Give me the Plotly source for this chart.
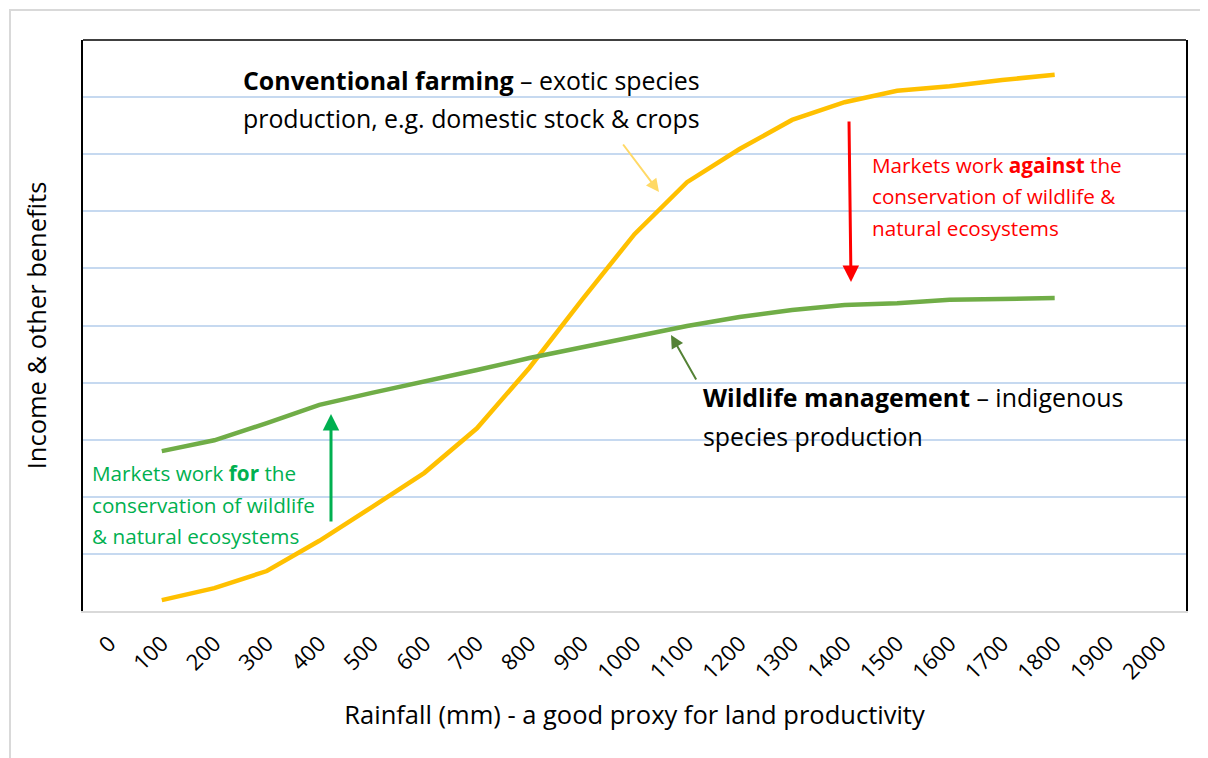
import plotly.graph_objects as go

# ---------------- data ----------------
rainfall_labels = [str(v) for v in range(0, 2100, 100)]
series_x = [str(v) for v in range(100, 1900, 100)]
conventional_farming = [0.19, 0.40, 0.70, 1.23, 1.82, 2.42, 3.20, 4.26, 5.45, 6.60,
                        7.51, 8.09, 8.60, 8.91, 9.11, 9.19, 9.30, 9.39]
wildlife_management = [2.80, 2.99, 3.29, 3.61, 3.82, 4.01, 4.22, 4.43, 4.62, 4.80,
                       4.99, 5.15, 5.27, 5.36, 5.39, 5.45, 5.46, 5.48]
y_ticks = list(range(0, 11))

# ---------------- geometry (page pixel coordinates) ----------------
PAGE_W, PAGE_H = 1208, 758
OFF = 8  # default body margin of the html page
L, R, T, B = 83, 1186, 40, 611
FONT = "Open Sans"


def px(x):
    return (x - L) / (R - L)


def py(y):
    return (B - y) / (B - T)


fig = go.Figure()
fig.add_trace(go.Scatter(x=series_x, y=conventional_farming, mode="lines",
                         line=dict(color="#FFC000", width=4.5), name="Conventional farming",
                         hoverinfo="skip"))
fig.add_trace(go.Scatter(x=series_x, y=wildlife_management, mode="lines",
                         line=dict(color="#70AD47", width=4.5), name="Wildlife management",
                         hoverinfo="skip"))

shapes = []
# white boxes hiding gridlines behind text (between gridlines and traces)
for (x0, y0, x1, y1) in [(222, 62, 740, 138), (853, 140, 1171, 250), (681, 372, 1148, 452)]:
    shapes.append(dict(type="rect", xref="paper", yref="paper", x0=px(x0), x1=px(x1),
                       y0=py(y1), y1=py(y0), fillcolor="white", line=dict(width=0),
                       layer="between"))
# top border of plot area
shapes.append(dict(type="line", xref="paper", yref="paper", x0=0, x1=1, y0=1, y1=1,
                   line=dict(color="black", width=1.5)))
# outer chart frame
shapes.append(dict(type="rect", xref="paper", yref="paper", x0=px(10), x1=px(1240),
                   y0=py(800), y1=py(10), line=dict(color="#d9d9d9", width=2),
                   fillcolor="rgba(0,0,0,0)", layer="below"))

annotations = []


def text_line(txt, x, y, size, color="black"):
    annotations.append(dict(text=txt, xref="paper", yref="paper", x=px(x), y=py(y),
                            xanchor="left", yanchor="middle", showarrow=False,
                            font=dict(family=FONT, size=size, color=color)))


BIG = 24.9
SMALL = 20.7
text_line("<b>Conventional farming</b> – exotic species", 241, 80, BIG)
text_line("production, e.g. domestic stock & crops", 241, 118, BIG)
text_line("<b>Wildlife management</b> – indigenous", 701, 397, BIG)
text_line("species production", 701, 436, BIG)
red = "#FF0000"
text_line("Markets work <b>against</b> the", 870, 165, SMALL, red)
text_line("conservation of wildlife &", 870, 196, SMALL, red)
text_line("natural ecosystems", 870, 228, SMALL, red)
grn = "#00B050"
text_line("Markets work <b>for</b> the", 90, 473, SMALL, grn)
text_line("conservation of wildlife", 90, 505, SMALL, grn)
text_line("& natural ecosystems", 90, 536, SMALL, grn)


def cat_x(xpix):
    return (xpix - L) / (R - L) * len(rainfall_labels) - 0.5


def val_y(ypix):
    return (B - ypix) / (B - T) * 10


def arrow(head, tail, color, width, size=1.0, head_style=2):
    annotations.append(dict(x=cat_x(head[0]), y=val_y(head[1]), xref="x", yref="y",
                            ax=tail[0] - head[0], ay=tail[1] - head[1], text="",
                            showarrow=True, arrowhead=head_style, arrowsize=size,
                            arrowwidth=width, arrowcolor=color))


arrow((659, 192), (622, 143), "#FFD966", 2, 1.3)
arrow((851, 282), (849, 120), red, 3, 1.1)
arrow((671, 335), (697, 381), "#548235", 2, 1.3)
arrow((331, 414), (331, 523), grn, 3, 1.1)

fig.update_layout(
    width=PAGE_W - OFF, height=PAGE_H - OFF,
    margin=dict(l=L - OFF, r=PAGE_W - R, t=T - OFF, b=PAGE_H - B, autoexpand=False),
    paper_bgcolor="white", plot_bgcolor="white",
    showlegend=False,
    shapes=shapes, annotations=annotations,
    font=dict(family=FONT, color="black"),
    xaxis=dict(type="category", categoryorder="array", categoryarray=rainfall_labels,
               tickvals=rainfall_labels, ticktext=rainfall_labels,
               range=[-0.5, len(rainfall_labels) - 0.5], showgrid=False, zeroline=False,
               showline=True, linecolor="#d9d9d9", linewidth=2, ticks="",
               tickangle=-45, ticklabelstandoff=9,
               tickfont=dict(size=22, family=FONT, color="black"),
               title=dict(text="Rainfall (mm) - a good proxy for land productivity",
                          font=dict(size=25.5, family=FONT, color="black"), standoff=22)),
    yaxis=dict(range=[0, 10], tickvals=y_ticks, showticklabels=False, ticks="",
               showgrid=True, gridcolor="#c6d9f0", gridwidth=1.5, zeroline=False,
               showline=True, linecolor="black", linewidth=1.5, mirror=True,
               title=dict(text="Income & other benefits",
                          font=dict(size=25.5, family=FONT, color="black"), standoff=27)),
)

fig.write_html("out.html")
